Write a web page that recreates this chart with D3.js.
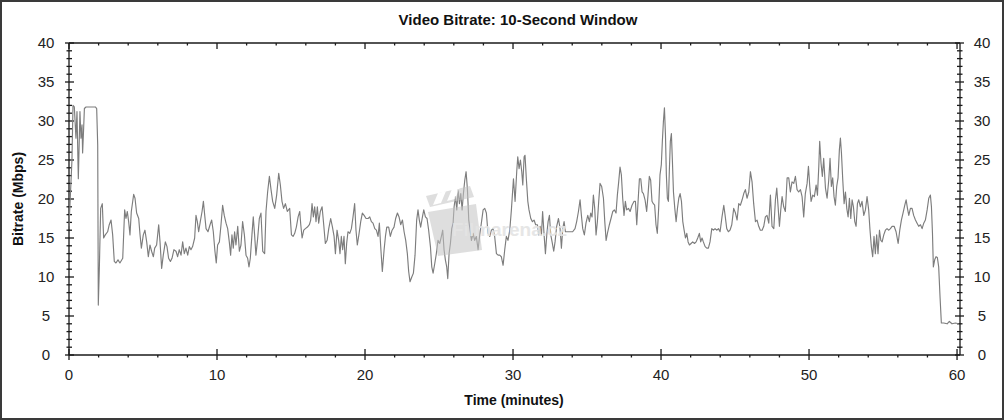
<!DOCTYPE html>
<html>
<head>
<meta charset="utf-8">
<script src="https://cdn.jsdelivr.net/npm/d3@7/dist/d3.min.js"></script>
<style>
html,body{margin:0;padding:0;background:#fff;}
svg{display:block;}
text{font-family:"Liberation Sans",Arial,sans-serif;}
</style>
</head>
<body>
<svg id="chart" width="1004" height="420"></svg>
<script>
const chartTitle = "Video Bitrate: 10-Second Window";
const xTitle = "Time (minutes)";
const yTitle = "Bitrate (Mbps)";
const watermarkText = "Filmarena.cz";
const xTickValues = [0, 10, 20, 30, 40, 50, 60];
const yTickValues = [0, 5, 10, 15, 20, 25, 30, 35, 40];

const timeMin = [
0,0.2,0.27,0.36,0.47,0.54,0.63,0.74,0.81,0.88,0.92,0.99,1.04,1.15,1.78,1.87,1.94,1.98,2.05,2.14,2.25,2.34,2.45,2.61,2.72,2.84,2.95,3.06,3.17,3.31,3.44,3.63,3.76,3.85,3.94,4.03,4.12,4.21,4.37,4.46,4.57,4.71,4.80,4.89,5.02,5.13,5.25,5.36,5.47,5.58,5.70,5.79,5.92,6.06,6.15,6.26,6.37,6.51,6.62,6.73,6.85,6.96,7.09,7.23,7.34,7.45,7.57,7.68,7.79,7.90,8.02,8.13,8.24,8.35,8.49,8.58,8.67,8.76,8.87,8.99,9.08,9.17,9.26,9.39,9.53,9.64,9.75,9.86,9.95,10.04,10.16,10.27,10.38,10.49,10.61,10.72,10.83,10.92,11.01,11.10,11.19,11.28,11.40,11.51,11.62,11.73,11.85,11.96,12.07,12.16,12.25,12.36,12.45,12.54,12.63,12.75,12.86,12.97,13.09,13.22,13.31,13.42,13.54,13.65,13.76,13.90,14.03,14.17,14.28,14.39,14.50,14.62,14.75,
14.91,15.03,15.14,15.25,15.36,15.48,15.59,15.66,15.75,15.86,15.97,16.11,16.24,16.33,16.42,16.51,16.60,16.69,16.78,16.87,16.98,17.10,17.21,17.32,17.44,17.55,17.68,17.80,17.91,18.00,18.11,18.22,18.31,18.40,18.49,18.58,18.67,18.76,18.85,18.97,19.08,19.19,19.30,19.39,19.48,19.60,19.71,19.82,19.94,20.07,20.21,20.32,20.43,20.54,20.66,20.77,20.88,20.97,21.06,21.17,21.29,21.38,21.47,21.60,21.71,21.83,21.96,22.07,22.19,22.30,22.41,22.53,22.64,22.75,22.86,22.95,23.04,23.16,23.27,23.38,23.49,23.58,23.67,23.76,23.88,23.97,24.08,24.19,24.30,24.42,24.51,24.60,24.71,24.82,24.93,25.05,25.16,25.25,25.34,25.43,25.52,25.59,25.68,25.77,25.86,25.95,26.02,26.11,26.20,26.29,26.38,26.47,26.56,26.65,26.74,26.83,26.92,27.01,27.10,27.19,27.30,27.41,27.52,27.64,27.75,27.86,27.98,28.09,28.20,28.31,28.43,28.54,28.65,28.76,28.88,28.99,29.10,29.21,29.33,29.44,29.55,29.66,29.78,29.89,
30.03,30.14,30.25,30.32,30.41,30.50,30.59,30.66,30.75,30.81,30.90,31.00,31.08,31.20,31.31,31.42,31.53,31.65,31.74,31.83,31.92,32.00,32.10,32.19,32.28,32.37,32.46,32.55,32.64,32.75,32.84,32.95,33.07,33.18,33.27,33.36,33.45,33.54,33.67,33.85,34.03,34.19,34.30,34.42,34.53,34.62,34.71,34.82,34.93,35.05,35.16,35.25,35.34,35.43,35.52,35.61,35.70,35.79,35.88,35.99,36.11,36.20,36.29,36.40,36.51,36.62,36.74,36.85,36.96,37.05,37.14,37.23,37.32,37.41,37.50,37.59,37.68,37.80,37.91,38.04,38.18,38.27,38.36,38.45,38.54,38.63,38.72,38.81,38.92,39.03,39.12,39.21,39.30,39.39,39.48,39.57,39.66,39.75,39.84,39.93,40.02,40.09,40.16,40.23,40.30,40.36,40.43,40.50,40.56,40.63,40.70,40.77,40.84,40.93,41.02,41.11,41.20,41.29,41.38,41.47,41.56,41.65,41.74,41.83,41.92,42.03,42.14,42.26,42.37,42.48,42.59,42.68,42.77,42.86,42.98,43.09,43.20,43.31,43.43,43.54,43.65,43.76,43.88,43.99,44.12,44.24,44.33,44.44,44.55,44.66,44.78,
44.91,45.03,45.14,45.25,45.36,45.48,45.59,45.70,45.81,45.93,46.04,46.15,46.26,46.38,46.49,46.60,46.71,46.83,46.94,47.05,47.16,47.28,47.39,47.50,47.62,47.73,47.82,47.91,48.00,48.09,48.18,48.29,48.40,48.52,48.63,48.74,48.85,48.97,49.08,49.19,49.30,49.42,49.53,49.64,49.75,49.87,49.96,50.05,50.14,50.25,50.36,50.48,50.57,50.66,50.72,50.81,50.90,50.99,51.11,51.22,51.33,51.42,51.51,51.60,51.69,51.78,51.87,51.96,52.05,52.12,52.19,52.28,52.37,52.46,52.55,52.64,52.73,52.82,52.91,53.00,53.09,53.18,53.27,53.36,53.47,53.58,53.70,53.81,53.92,54.03,54.12,54.21,54.30,54.39,54.48,54.57,54.66,54.76,54.85,54.94,55.05,55.16,55.27,55.39,55.50,55.61,55.75,55.88,56.02,56.13,56.24,56.35,56.47,56.56,56.65,56.74,56.85,56.96,57.07,57.19,57.30,57.41,57.53,57.64,57.75,57.86,57.98,58.09,58.20,58.27,58.34,58.40,58.49,58.58,58.67,58.76,58.85,58.94,59.10,59.33,59.48,59.66,59.89,60.11
];

const bitrate = [
16.5,25,32,31.8,27.8,31.2,22.6,31.2,27.8,29.5,25.9,29.1,31.6,31.8,31.8,31.6,26.9,6.4,11.1,18.8,19.4,15.0,15.4,15.8,16.7,17.3,15.4,12.0,11.8,12.2,11.8,12.4,18.6,17.5,18.4,17.1,15.4,18.4,20.6,20.1,18.2,17.5,15.4,13.7,15.4,16.0,14.5,12.6,14.1,13.3,12.6,13.7,14.1,16.7,14.5,11.1,12.8,14.5,13.9,12.4,12.0,12.4,13.5,13.3,12.6,13.5,12.8,14.5,13.0,13.7,12.8,13.9,13.5,13.9,15.0,17.9,17.1,15.8,17.1,18.4,19.7,17.9,16.2,15.8,16.7,17.3,15.8,13.3,11.8,14.1,14.5,16.7,19.2,17.9,16.9,16.2,14.5,12.8,15.4,13.7,15.8,14.1,16.5,13.3,14.1,17.1,15.4,12.8,12.4,11.3,12.4,15.4,17.7,15.4,12.8,15.0,17.5,18.2,13.3,13.0,18.4,20.9,22.9,21.2,19.7,18.8,20.5,23.3,21.8,19.7,18.8,19.4,18.4,
18.8,15.4,15.2,15.6,16.4,17.7,18.4,16.7,15.0,16.0,16.2,16.4,16.7,17.3,19.4,17.7,19.0,17.1,19.0,16.9,18.4,19.0,16.7,14.3,14.7,16.2,17.5,16.4,15.2,13.0,16.0,14.7,13.0,15.2,13.5,15.2,11.7,14.3,15.8,15.6,16.2,17.7,19.4,16.0,14.1,15.6,17.1,18.2,17.9,17.5,17.5,17.7,17.1,16.9,16.2,16.0,15.2,16.9,13.9,10.7,13.5,15.2,16.4,16.4,15.2,16.0,16.4,17.5,18.2,17.7,16.7,17.3,15.8,14.7,13.0,10.7,9.4,10.0,10.5,12.8,17.3,18.6,17.3,16.4,17.7,18.6,17.7,17.5,16.0,13.9,11.3,10.5,11.7,13.0,14.7,14.3,15.2,16.0,13.5,12.2,11.3,9.8,13.0,14.3,16.2,16.9,19.0,20.3,18.6,21.2,19.4,20.7,18.6,20.7,22.4,23.5,21.2,17.3,16.0,14.7,15.6,14.7,15.2,13.5,15.4,16.9,18.6,18.8,18.2,15.6,15.2,16.0,16.2,15.2,13.0,12.8,12.8,12.6,11.5,13.5,15.2,14.7,16.0,18.6,
22.6,19.7,23.5,25.4,23.9,25.0,23.5,21.8,25.4,25.6,22.6,19.7,18.6,17.5,17.1,17.3,16.7,16.7,15.4,16.5,15.4,18.4,15.4,13.0,15.4,17.1,17.9,15.4,14.5,13.3,14.5,16.5,17.5,16.2,13.7,16.2,17.1,15.8,15.8,15.8,15.8,16.2,17.1,18.4,19.9,17.9,16.2,15.4,16.9,17.9,17.1,18.2,17.7,20.5,18.8,15.4,17.1,19.7,22.0,21.6,20.1,17.1,14.7,15.8,16.7,17.5,18.4,18.6,18.2,20.5,22.2,24.1,23.1,20.1,17.9,19.7,18.6,18.8,18.4,19.2,19.7,19.7,16.7,19.7,22.6,22.6,20.9,20.7,19.9,18.4,20.5,22.9,22.4,19.7,19.4,19.2,16.7,15.6,18.8,23.1,24.4,27.4,29.9,31.7,28.2,23.1,20.1,19.7,23.5,27.4,28.4,24.8,20.9,18.8,17.1,18.8,20.1,20.7,19.7,17.1,16.0,15.0,15.6,14.5,14.1,14.3,14.5,14.3,14.5,15.0,15.6,14.5,15.0,14.5,13.9,13.7,13.7,14.5,16.2,16.0,16.2,16.0,16.2,15.8,17.7,19.2,17.9,16.2,15.8,16.0,16.7,
18.8,18.2,17.3,19.4,19.2,19.9,20.7,21.2,20.1,20.9,23.5,22.2,19.4,17.1,17.3,16.5,16.0,16.0,16.5,17.7,17.9,16.9,20.5,16.5,16.2,19.9,21.4,19.0,16.5,18.6,20.3,19.0,18.4,22.7,22.7,20.9,22.2,22.0,22.9,21.2,20.9,21.2,20.3,17.7,20.7,22.0,24.2,21.6,19.7,20.5,20.3,21.8,20.5,24.2,27.4,24.6,22.9,25.2,21.4,20.1,22.4,25.2,21.6,22.7,20.3,19.2,21.6,22.7,26.3,27.8,25.9,22.4,19.4,20.9,18.8,17.7,20.1,17.5,19.9,19.0,17.1,16.5,19.4,19.9,19.0,19.7,17.9,18.6,20.3,18.6,16.0,13.9,12.6,15.2,13.0,15.4,13.0,16.0,14.7,14.5,15.4,16.0,16.2,16.0,16.2,16.5,16.5,15.8,14.3,16.0,17.3,18.2,19.2,19.9,18.8,17.9,18.8,18.8,17.9,17.3,16.9,16.5,16.7,16.2,16.9,17.3,18.6,20.1,20.5,19.0,15.6,11.3,12.2,12.6,12.5,11.3,7.5,4.1,4.1,4.0,4.3,4.0,4.1,4.0
];

const series = timeMin.map((t, i) => ({t: t, v: bitrate[i]}));

const svg = d3.select("#chart");
const W = 1004, H = 420;
const plot = {left: 69, right: 960, top: 43, bottom: 355};

// outer frame
svg.append("rect").attr("x", 1).attr("y", 1).attr("width", W - 2).attr("height", H - 2)
  .attr("fill", "#fff").attr("stroke", "#3a3a3a").attr("stroke-width", 2);

const x = d3.scaleLinear().domain([0, 60.2]).range([plot.left, plot.right]);
const y = d3.scaleLinear().domain([0, 40]).range([plot.bottom, plot.top]);

const axisColor = "#1a1a1a";
const minorY = d3.range(0, 41, 1);
const minorX = d3.range(0, 61, 2);

// axes lines
const ax = svg.append("g").attr("stroke", axisColor).attr("stroke-width", 1.3).attr("fill", "none");
ax.append("line").attr("x1", plot.left).attr("x2", plot.right).attr("y1", plot.bottom).attr("y2", plot.bottom);
ax.append("line").attr("x1", plot.left).attr("x2", plot.right).attr("y1", plot.top).attr("y2", plot.top);
ax.append("line").attr("x1", plot.left).attr("x2", plot.left).attr("y1", plot.top).attr("y2", plot.bottom);
ax.append("line").attr("x1", plot.right).attr("x2", plot.right).attr("y1", plot.top).attr("y2", plot.bottom);

// y ticks left & right
minorY.forEach(v => {
  const major = v % 5 === 0;
  const yy = y(v);
  ax.append("line").attr("x1", plot.left - (major ? 4 : 2.5)).attr("x2", plot.left + (major ? 5 : 3))
    .attr("y1", yy).attr("y2", yy);
  ax.append("line").attr("x1", plot.right - (major ? 5 : 3)).attr("x2", plot.right + (major ? 4 : 2.5))
    .attr("y1", yy).attr("y2", yy);
});
// x ticks bottom & top
minorX.forEach(t => {
  const major = t % 10 === 0;
  const xx = x(t);
  ax.append("line").attr("x1", xx).attr("x2", xx)
    .attr("y1", plot.bottom - (major ? 6 : 0)).attr("y2", plot.bottom + (major ? 5 : 2.5));
  ax.append("line").attr("x1", xx).attr("x2", xx)
    .attr("y1", plot.top).attr("y2", plot.top + (major ? 6 : 2.5));
});

// tick labels
const lab = svg.append("g").attr("fill", "#222").attr("font-size", 15).attr("text-anchor", "middle");
yTickValues.forEach(v => {
  lab.append("text").attr("x", 46).attr("y", y(v)).attr("dy", "0.36em").text(v);
  lab.append("text").attr("x", 982).attr("y", y(v)).attr("dy", "0.36em").text(v);
});
xTickValues.forEach(t => {
  lab.append("text").attr("x", x(t)).attr("y", 380).text(t);
});

// data line
const line = d3.line().x(d => x(d.t)).y(d => y(d.v));
svg.append("path").datum(series).attr("d", line)
  .attr("fill", "none").attr("stroke", "#7d7d7d").attr("stroke-width", 1.15)
  .attr("stroke-linejoin", "round");

// watermark (semi-transparent, drawn over the line like the reference)
const wm = svg.append("g").attr("opacity", 0.55);
wm.append("path").attr("fill", "#c4c4c4")
  .attr("d", "M426,196 L470,186 L474,197 L430,207 Z M428,212 L476,204 L482,250 L438,256 Z");
wm.append("path").attr("fill", "#ffffff")
  .attr("d", "M438,193 L446,191 L441,203 L433,205 Z M452,189 L460,187 L455,199 L447,201 Z");
svg.append("text").attr("x", 452).attr("y", 236).attr("font-size", 19).attr("font-weight", "bold")
  .attr("fill", "#e4e4e4").attr("opacity", 0.9).text(watermarkText);

// titles
svg.append("text").attr("x", 518).attr("y", 25).attr("text-anchor", "middle")
  .attr("font-size", 15).attr("font-weight", "bold").attr("fill", "#111").text(chartTitle);
svg.append("text").attr("x", 514).attr("y", 405).attr("text-anchor", "middle")
  .attr("font-size", 14).attr("font-weight", "bold").attr("fill", "#111").text(xTitle);
svg.append("text").attr("transform", "translate(23,199) rotate(-90)").attr("text-anchor", "middle")
  .attr("font-size", 14).attr("font-weight", "bold").attr("fill", "#111").text(yTitle);
</script>
</body>
</html>
